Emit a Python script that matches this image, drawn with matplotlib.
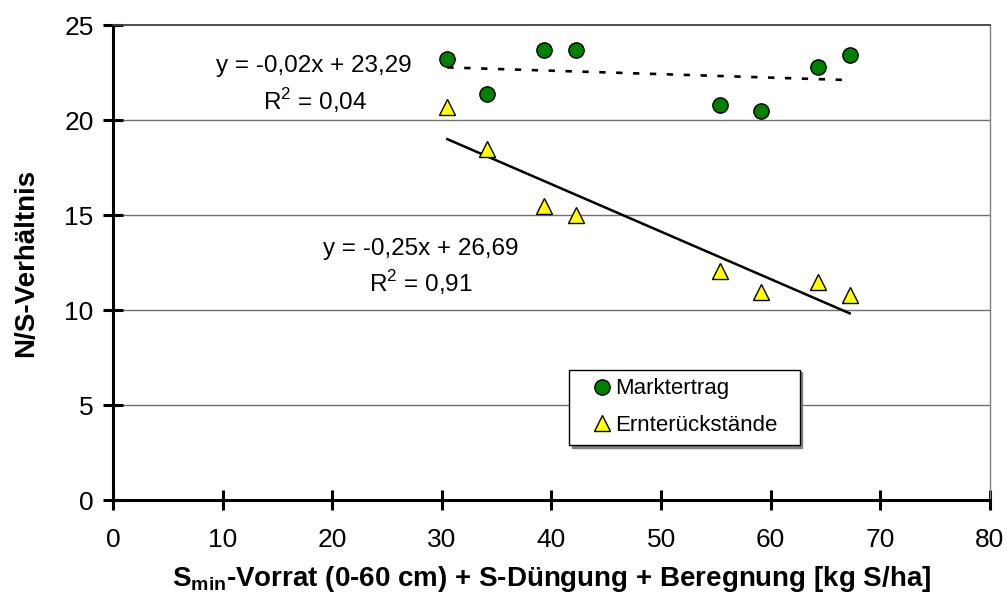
import numpy as np
import matplotlib
matplotlib.use("Agg")
import matplotlib.pyplot as plt
from matplotlib.legend_handler import HandlerLine2D

# -------------------------
# Style
# -------------------------

plt.rcParams["font.family"] = ["Liberation Sans", "DejaVu Sans"]
plt.rcParams["mathtext.fontset"] = "custom"
plt.rcParams["mathtext.rm"] = "Liberation Sans"
plt.rcParams["mathtext.bf"] = "Liberation Sans:bold"

# -------------------------
# Data
# -------------------------

s_supply = [30.5, 34.1, 39.3, 42.2, 55.4, 59.1, 64.3, 67.2]
marktertrag = [23.2, 21.35, 23.7, 23.7, 20.8, 20.5, 22.8, 23.4]
ernterueckstaende = [20.7, 18.5, 15.5, 15.0, 12.05, 10.95, 11.45, 10.8]

x_ticks = [0, 10, 20, 30, 40, 50, 60, 70, 80]
y_ticks = [0, 5, 10, 15, 20, 25]

eq_markt = ["y = -0,02x + 23,29", "R$^2$ = 0,04"]
eq_ernte = ["y = -0,25x + 26,69", "R$^2$ = 0,91"]

# -------------------------
# Plot
# -------------------------

fig = plt.figure(figsize=(10.07, 6.01), dpi=100)
ax = fig.add_axes([0.1122, 0.168, 0.8709, 0.7904])

ax.set_xlim(0, 80)
ax.set_ylim(0, 25)

for yv in y_ticks[1:-1]:
    ax.axhline(yv, color="#707070", lw=1.0, zorder=1)

x = np.array(s_supply)
xs = np.array([x.min(), x.max()])

# linear trend lines
m1, b1 = np.polyfit(x, marktertrag, 1)
m2, b2 = np.polyfit(x, ernterueckstaende, 1)
ax.plot(xs, m1 * xs + b1, color="black", lw=1.9, ls=(0, (2.4, 4.0)), zorder=2)
ax.plot(xs, m2 * xs + b2, color="black", lw=1.8, zorder=2)

ax.plot(x, marktertrag, ls="none", marker="o", ms=11, mfc="#007f00",
        mec="black", mew=1.0, label="Marktertrag", zorder=3)
ax.plot(x, ernterueckstaende, ls="none", marker="^", ms=11, mfc="#ffff00",
        mec="black", mew=1.0, label="Ernterückstände", zorder=3)

# equations
ax.text(18.3, 22.85, eq_markt[0], fontsize=17.5, ha="center", va="center")
ax.text(18.4, 21.05, eq_markt[1], fontsize=17.5, ha="center", va="center")
ax.text(28.1, 13.2, eq_ernte[0], fontsize=17.5, ha="center", va="center")
ax.text(28.1, 11.45, eq_ernte[1], fontsize=17.5, ha="center", va="center")

# axes
ax.set_xticks(x_ticks)
ax.set_yticks(y_ticks)
ax.tick_params(axis="both", direction="inout", length=14, width=2.2,
               labelsize=19, color="black")
ax.tick_params(axis="x", pad=13)
ax.tick_params(axis="y", pad=7)

ax.spines["left"].set_linewidth(2.2)
ax.spines["bottom"].set_linewidth(2.2)
ax.spines["top"].set_linewidth(1.3)
ax.spines["top"].set_color("#404040")
ax.spines["right"].set_linewidth(1.0)
ax.spines["right"].set_color("#808080")

ax.set_xlabel(r"S$_{\mathbf{min}}$-Vorrat (0-60 cm) + S-Düngung + Beregnung [kg S/ha]",
              fontsize=20, fontweight="bold", labelpad=9)
ax.set_ylabel("N/S-Verhältnis", fontsize=20, fontweight="bold", labelpad=18)

# legend
leg = ax.legend(loc="lower left", bbox_to_anchor=(0.52, 0.116, 0.263, 0.17),
                mode="expand", fontsize=16, frameon=True, fancybox=False,
                shadow={"color": "#808080", "alpha": 1.0}, handlelength=1.39,
                handletextpad=0.3, borderpad=0.4, labelspacing=0.7,
                borderaxespad=0,
                handler_map={plt.Line2D: HandlerLine2D(xpad=0.8)})
leg.get_frame().set_edgecolor("black")
leg.get_frame().set_linewidth(1.0)

fig.savefig("out.png", dpi=100)
